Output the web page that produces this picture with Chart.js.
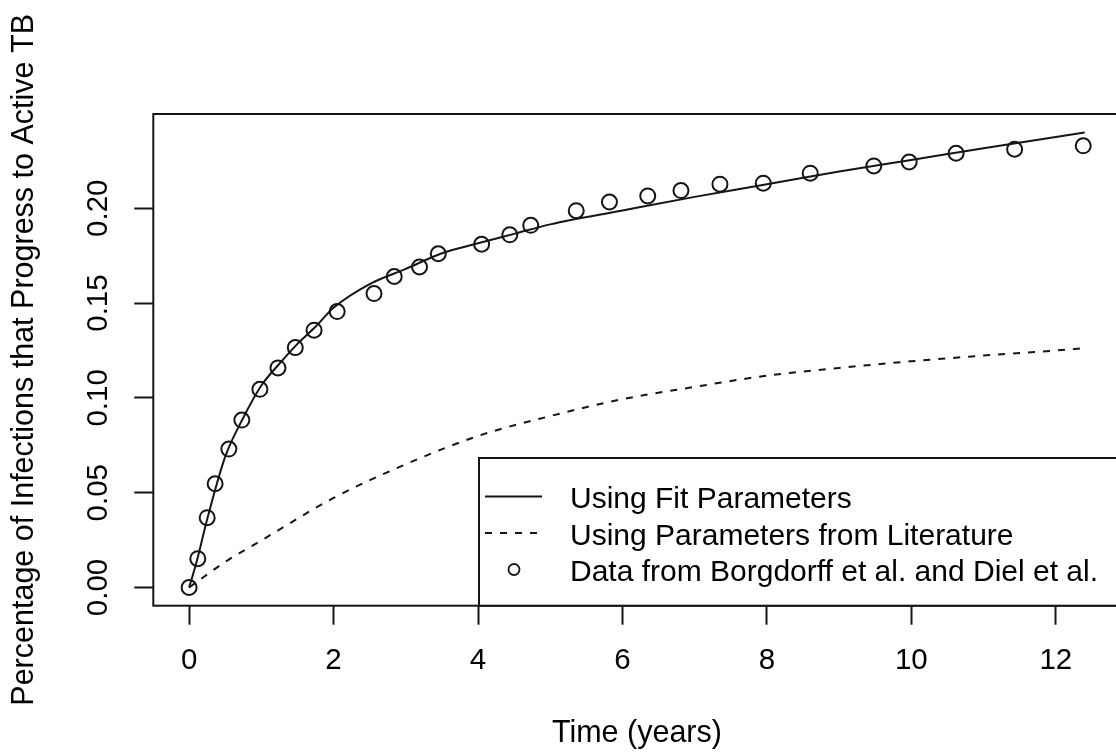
<!DOCTYPE html>
<html>
<head>
<meta charset="utf-8">
<script src="https://cdn.jsdelivr.net/npm/chart.js@4"></script>
<style>
  html, body { margin: 0; padding: 0; background: #fff; overflow: hidden; }
  canvas { display: block; }
</style>
</head>
<body>
<canvas id="chart" width="1130" height="752"></canvas>
<script>
// Model fitted to the data (solid line)
const fitTimes  = [0, 0.1, 0.25, 0.5, 0.75, 1, 1.25, 1.5, 1.75, 2, 2.5, 3, 3.5, 4, 4.5, 5, 6, 7, 8, 9, 10, 11, 12, 12.4];
const fitValues = [0, 0.013, 0.036, 0.069, 0.0895, 0.1065, 0.118, 0.1285, 0.1375, 0.1475, 0.160, 0.168, 0.1763, 0.1815, 0.1865, 0.1915, 0.1988, 0.206, 0.2126, 0.2194, 0.2255, 0.2316, 0.2376, 0.2399];

// Model with literature parameters (dashed line)
const litTimes  = [0, 0.5, 1, 2, 3, 4, 5, 6, 7, 8, 9, 10, 11, 12, 12.4];
const litValues = [0, 0.0135, 0.0248, 0.0472, 0.065, 0.0799, 0.0904, 0.0993, 0.1058, 0.1117, 0.1158, 0.1193, 0.1223, 0.125, 0.1262];

// Observed data (circles)
const obsTimes  = [0, 0.12, 0.25, 0.36, 0.55, 0.73, 0.98, 1.23, 1.47, 1.73, 2.05, 2.56, 2.84, 3.19, 3.45, 4.05, 4.44, 4.73, 5.36, 5.82, 6.35, 6.81, 7.35, 7.95, 8.6, 9.48, 9.97, 10.62, 11.43, 12.38];
const obsValues = [0, 0.0152, 0.0368, 0.0547, 0.073, 0.0883, 0.1045, 0.1158, 0.1265, 0.1357, 0.1455, 0.155, 0.164, 0.169, 0.176, 0.181, 0.186, 0.191, 0.1987, 0.2033, 0.2065, 0.2093, 0.2127, 0.2132, 0.2185, 0.2223, 0.2244, 0.229, 0.2311, 0.2329];

const xTicks = [0, 2, 4, 6, 8, 10, 12];
const yTicks = [0, 0.05, 0.10, 0.15, 0.20];

const seriesLabels = [
    'Using Fit Parameters',
    'Using Parameters from Literature',
    'Data from Borgdorff et al. and Diel et al.'
];

const ink = '#151515';
const family = "'Liberation Sans', Arial, Helvetica, sans-serif";

function pairs(xs, ys) {
    return xs.map((x, i) => ({ x: x, y: ys[i] }));
}

// Frame round the plot and the legend box in the bottom right corner
const frameAndLegend = {
    id: 'frameAndLegend',
    afterDatasetsDraw(chart) {
        const ctx = chart.ctx;
        const a = chart.chartArea;
        ctx.save();
        ctx.strokeStyle = ink;
        ctx.lineWidth = 2;
        ctx.strokeRect(a.left, a.top, a.right - a.left, a.bottom - a.top);

        const boxLeft = 479, boxTop = 458;
        ctx.fillStyle = '#fff';
        ctx.fillRect(boxLeft, boxTop, a.right - boxLeft, a.bottom - boxTop);
        ctx.strokeRect(boxLeft, boxTop, a.right - boxLeft, a.bottom - boxTop);

        const rows = [496.5, 533, 569.5];
        const ds = chart.data.datasets;

        // solid line
        ctx.lineWidth = 1.8;
        ctx.beginPath();
        ctx.moveTo(485, rows[0]);
        ctx.lineTo(542, rows[0]);
        ctx.stroke();
        // dashed line
        ctx.setLineDash([7, 8]);
        ctx.beginPath();
        ctx.moveTo(485, rows[1]);
        ctx.lineTo(542, rows[1]);
        ctx.stroke();
        ctx.setLineDash([]);
        // circle
        ctx.beginPath();
        ctx.arc(514, rows[2], 5.5, 0, Math.PI * 2);
        ctx.stroke();

        ctx.fillStyle = '#000';
        ctx.font = '30px ' + family;
        ctx.textAlign = 'left';
        ctx.textBaseline = 'alphabetic';
        rows.forEach((y, i) => {
            ctx.fillText(ds[i].label, 570, y + 11.5);
        });
        ctx.restore();
    }
};

const ctx = document.getElementById('chart').getContext('2d');
const chart = new Chart(ctx, {
    type: 'line',
    data: {
        datasets: [
            {
                label: seriesLabels[0],
                data: pairs(fitTimes, fitValues),
                borderColor: ink,
                borderWidth: 2,
                pointRadius: 0,
                cubicInterpolationMode: 'monotone',
                fill: false
            },
            {
                label: seriesLabels[1],
                data: pairs(litTimes, litValues),
                borderColor: ink,
                borderWidth: 2,
                borderDash: [7, 8],
                pointRadius: 0,
                cubicInterpolationMode: 'monotone',
                fill: false
            },
            {
                label: seriesLabels[2],
                data: pairs(obsTimes, obsValues),
                showLine: false,
                pointStyle: 'circle',
                pointRadius: 7.5,
                pointBorderWidth: 2,
                pointBorderColor: ink,
                pointBackgroundColor: 'rgba(0,0,0,0)'
            }
        ]
    },
    options: {
        responsive: false,
        animation: false,
        layout: { padding: { top: 114, right: 4.5, left: 0, bottom: 0 } },
        plugins: {
            legend: { display: false },
            tooltip: { enabled: false }
        },
        scales: {
            x: {
                type: 'linear',
                min: -0.496,
                max: 12.896,
                afterBuildTicks: s => { s.ticks = xTicks.map(v => ({ value: v })); },
                afterFit: s => { s.height = 146.3; },
                grid: {
                    drawOnChartArea: false,
                    drawTicks: true,
                    tickLength: 19,
                    tickWidth: 2,
                    tickColor: ink
                },
                border: { display: false },
                ticks: {
                    color: '#000',
                    font: { family: family, size: 29.5 },
                    padding: 18.5,
                    maxRotation: 0,
                    autoSkip: false
                },
                title: {
                    display: true,
                    text: 'Time (years)',
                    color: '#000',
                    font: { family: family, size: 30.5 },
                    padding: { top: 0, bottom: 0 }
                }
            },
            y: {
                min: -0.0096,
                max: 0.2497,
                afterBuildTicks: s => { s.ticks = yTicks.map(v => ({ value: v })); },
                afterFit: s => { s.width = 153.3; },
                grid: {
                    drawOnChartArea: false,
                    drawTicks: true,
                    tickLength: 19,
                    tickWidth: 2,
                    tickColor: ink
                },
                border: { display: false },
                ticks: {
                    color: '#000',
                    font: { family: family, size: 29.5 },
                    padding: 6.5,
                    minRotation: 90,
                    maxRotation: 90,
                    crossAlign: 'center',
                    autoSkip: false,
                    callback: v => v.toFixed(2)
                },
                title: {
                    display: true,
                    text: 'Percentage of Infections that Progress to Active TB',
                    color: '#000',
                    font: { family: family, size: 30.5 },
                    padding: { top: 6.3, bottom: 0 }
                }
            }
        }
    },
    plugins: [frameAndLegend]
});
</script>
</body>
</html>
